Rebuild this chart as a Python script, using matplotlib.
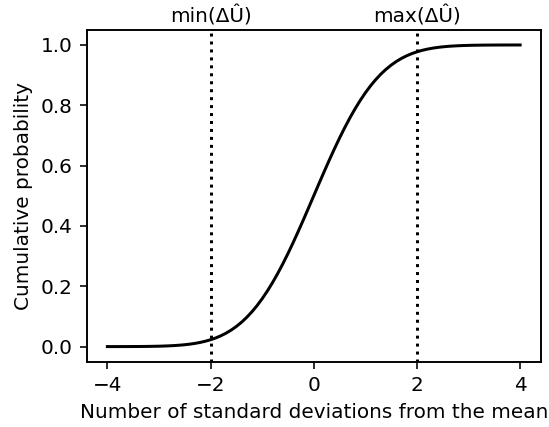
import matplotlib
matplotlib.use("Agg")
import matplotlib.pyplot as plt

# Values (cumulative probability vs. number of std devs)
x_sd = [-4.0, -3.9, -3.8, -3.7, -3.6, -3.5, -3.4, -3.3, -3.2, -3.1,
        -3.0, -2.9, -2.8, -2.7, -2.6, -2.5, -2.4, -2.3, -2.2, -2.1,
        -2.0, -1.9, -1.8, -1.7, -1.6, -1.5, -1.4, -1.3, -1.2, -1.1,
        -1.0, -0.9, -0.8, -0.7, -0.6, -0.5, -0.4, -0.3, -0.2, -0.1,
        0.0, 0.1, 0.2, 0.3, 0.4, 0.5, 0.6, 0.7, 0.8, 0.9,
        1.0, 1.1, 1.2, 1.3, 1.4, 1.5, 1.6, 1.7, 1.8, 1.9,
        2.0, 2.1, 2.2, 2.3, 2.4, 2.5, 2.6, 2.7, 2.8, 2.9,
        3.0, 3.1, 3.2, 3.3, 3.4, 3.5, 3.6, 3.7, 3.8, 3.9, 4.0]
cum_prob = [0.00003, 0.00005, 0.00007, 0.00011, 0.00016, 0.00023, 0.00034, 0.00048, 0.00069, 0.00097,
            0.00135, 0.00187, 0.00256, 0.00347, 0.00466, 0.00621, 0.00820, 0.01072, 0.01390, 0.01786,
            0.02275, 0.02872, 0.03593, 0.04457, 0.05480, 0.06681, 0.08076, 0.09680, 0.11507, 0.13567,
            0.15866, 0.18406, 0.21186, 0.24196, 0.27425, 0.30854, 0.34458, 0.38209, 0.42074, 0.46017,
            0.50000, 0.53983, 0.57926, 0.61791, 0.65542, 0.69146, 0.72575, 0.75804, 0.78814, 0.81594,
            0.84134, 0.86433, 0.88493, 0.90320, 0.91924, 0.93319, 0.94520, 0.95543, 0.96407, 0.97128,
            0.97725, 0.98214, 0.98610, 0.98928, 0.99180, 0.99379, 0.99534, 0.99653, 0.99744, 0.99813,
            0.99865, 0.99903, 0.99931, 0.99952, 0.99966, 0.99977, 0.99984, 0.99989, 0.99993, 0.99995, 0.99997]
marker_x = [-2, 2]
marker_labels = ["min(ΔÛ)", "max(ΔÛ)"]
x_ticks = [-4, -2, 0, 2, 4]
y_ticks = [0.0, 0.2, 0.4, 0.6, 0.8, 1.0]

DPI = 144
fig = plt.figure(figsize=(549 / DPI, 427 / DPI), dpi=DPI)
ax = fig.add_axes([0.158, 0.153, 0.827, 0.777])
ax.plot(x_sd, cum_prob, color='black', linewidth=1.5)
for mx in marker_x:
    ax.axvline(mx, color='black', linestyle=':', linewidth=1.5)
ax.set_xticks(x_ticks)
ax.set_yticks(y_ticks)
ax.set_xlabel("Number of standard deviations from the mean")
ax.set_ylabel("Cumulative probability")

top = ax.twiny()
top.set_xlim(ax.get_xlim())
top.set_xticks(marker_x)
top.set_xticklabels(marker_labels)
top.tick_params(axis='x', length=0, pad=1.5)

fig.savefig("out.png", dpi=DPI)
